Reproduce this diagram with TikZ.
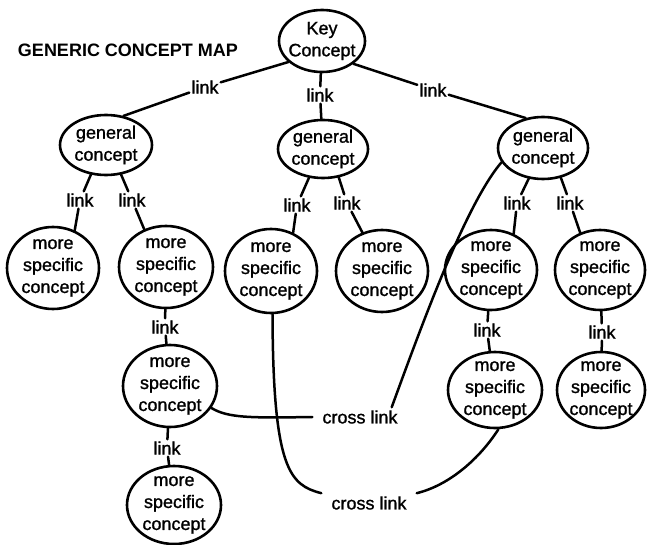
\documentclass[tikz,border=0pt]{standalone}
\usepackage{fontspec}
\setmainfont{Liberation Sans}
\newfontfamily\heavyfont{Liberation Sans}[FakeBold=1.2]
\usetikzlibrary{shapes.geometric}
\begin{document}
\begin{tikzpicture}[x=1pt,y=-1pt,
  concept/.style={ellipse, draw, line width=2.6pt, inner xsep=-12pt, inner ysep=-14pt,
    align=center, font=\heavyfont\fontsize{18}{22}\selectfont},
  lnk/.style={inner sep=2pt, font=\heavyfont\fontsize{18}{22}\selectfont},
  xlnk/.style={inner xsep=10pt, inner ysep=3pt, font=\heavyfont\fontsize{18}{22}\selectfont},
  conn/.style={line width=2.5pt, line cap=round}]
\useasboundingbox (0,0) rectangle (647,545);
\fill[white] (0,0) rectangle (647,545);

\node[font=\bfseries\fontsize{18}{22}\selectfont] (title) at (128,50) {GENERIC CONCEPT MAP};

% concepts
\node[concept, minimum width=86pt, minimum height=62pt] (key) at (322,41) {Key\\Concept};
\node[concept, minimum width=92pt, minimum height=60pt] (gl) at (106,145) {general\\concept};
\node[concept, minimum width=90pt, minimum height=58pt] (gm) at (323,149) {general\\concept};
\node[concept, minimum width=90pt, minimum height=62pt] (gr) at (543,148) {general\\concept};
\node[concept, minimum width=92pt, minimum height=82pt] (s1) at (53,268) {more\\specific\\concept};
\node[concept, minimum width=94pt, minimum height=82pt] (s2) at (166,267) {more\\specific\\concept};
\node[concept, minimum width=92pt, minimum height=84pt] (s3) at (271,271) {more\\specific\\concept};
\node[concept, minimum width=92pt, minimum height=82pt] (s4) at (382,271) {more\\specific\\concept};
\node[concept, minimum width=92pt, minimum height=80pt] (s5) at (491,270) {more\\specific\\concept};
\node[concept, minimum width=90pt, minimum height=80pt] (s6) at (600,270) {more\\specific\\concept};
\node[concept, minimum width=94pt, minimum height=82pt] (s7) at (170,386) {more\\specific\\concept};
\node[concept, minimum width=94pt, minimum height=78pt] (s8) at (174,505) {more\\specific\\concept};
\node[concept, minimum width=94pt, minimum height=76pt] (s9) at (495,390) {more\\specific\\concept};
\node[concept, minimum width=88pt, minimum height=76pt] (s10) at (601,390) {more\\specific\\concept};

% link labels
\node[lnk] (la) at (205,87) {link};
\node[lnk] (lb) at (320,95) {link};
\node[lnk] (lc) at (433,90) {link};
\node[lnk] (ld) at (80,200) {link};
\node[lnk] (le) at (132,200) {link};
\node[lnk] (lf) at (297,205) {link};
\node[lnk] (lg) at (347,203) {link};
\node[lnk] (lh) at (517,203) {link};
\node[lnk] (li) at (570,203) {link};
\node[lnk] (lj) at (165,327) {link};
\node[lnk] (lk) at (167,448) {link};
\node[lnk] (ll) at (487,330) {link};
\node[lnk] (lm) at (602,332) {link};
\node[xlnk] (cl1) at (360,417) {cross link};
\node[xlnk] (cl2) at (369,503) {cross link};

% connectors
\draw[conn] (key.212) -- (la);  \draw[conn] (la) -- (gl.59);
\draw[conn] (key) -- (lb);      \draw[conn] (lb) -- (gm);
\draw[conn] (key.324) -- (lc);  \draw[conn] (lc) -- (gr.120);
\draw[conn] (gl.243) -- (ld);   \draw[conn] (ld) -- (s1.60);
\draw[conn] (gl.297) -- (le);   \draw[conn] (le) -- (s2.120);
\draw[conn] (gm.244) -- (lf);   \draw[conn] (lf) -- (s3.60);
\draw[conn] (gm.299) -- (lg);   \draw[conn] (lg) -- (s4.117);
\draw[conn] (gr.245) -- (lh);   \draw[conn] (lh) -- (s5.58);
\draw[conn] (gr.301) -- (li);   \draw[conn] (li) -- (s6.118);
\draw[conn] (s2) -- (lj);       \draw[conn] (lj) -- (s7);
\draw[conn] (s7) -- (lk);       \draw[conn] (lk) -- (s8);
\draw[conn] (s5) -- (ll);       \draw[conn] (ll) -- (s9);
\draw[conn] (s6) -- (lm);       \draw[conn] (lm) -- (s10);

% cross links
\draw[conn] (s7.-28) .. controls (228,418) and (250,418) .. (cl1.west);
\draw[conn] (gr.199) .. controls (465,205) and (420,330) .. ([xshift=-16pt]cl1.north east);
\draw[conn] (s3.-88) .. controls (273,470) and (290,485) .. (cl2.north west);
\draw[conn] (s9.-85) .. controls (480,458) and (450,485) .. (cl2.north east);
\end{tikzpicture}
\end{document}
